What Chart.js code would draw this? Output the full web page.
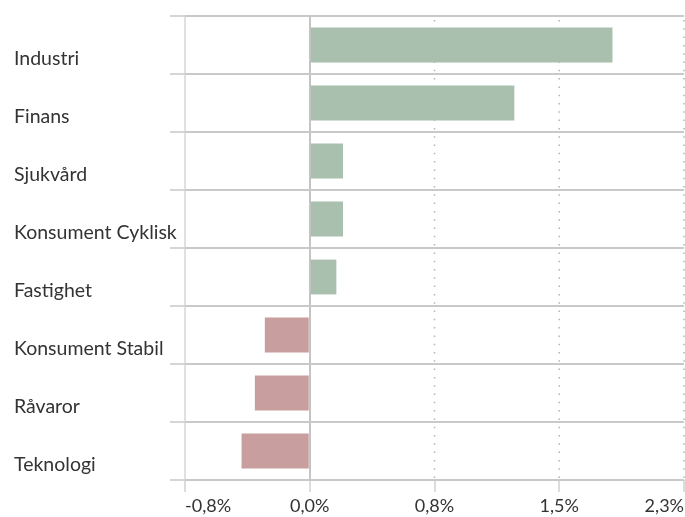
<!DOCTYPE html>
<html lang="sv">
<head>
<meta charset="utf-8">
<title>Sektorer</title>
<script src="https://cdn.jsdelivr.net/npm/chart.js@4/dist/chart.umd.min.js"></script>
<style>
  html, body { margin: 0; padding: 0; background: #fff; }
  #wrap { width: 685px; height: 517px; position: relative; }
</style>
</head>
<body>
<div id="wrap"><canvas id="chartSektorer"></canvas></div>
<script>
// Data
const sektorer = ['Industri', 'Finans', 'Sjukvård', 'Konsument Cyklisk', 'Fastighet', 'Konsument Stabil', 'Råvaror', 'Teknologi'];
const avkastning = [1.82, 1.23, 0.20, 0.20, 0.16, -0.27, -0.33, -0.41];
const xMin = -0.75;
const xMax = 2.25;
const xSteg = 0.75;

const GRON = '#a9c0ae';
const ROD = '#c89e9e';
const FONT = 'Lato, "Open Sans", sans-serif';

const formatProcent = v => v.toFixed(1).replace('.', ',') + '%';

// Prickade linjer + x-etiketter (första/sista etiketten hålls vid sin tick)
const extras = {
  id: 'extras',
  beforeDatasetsDraw(chart) {
    const { ctx, chartArea, scales: { x } } = chart;
    ctx.save();
    ctx.strokeStyle = '#b5b5b5';
    ctx.lineWidth = 1.5;
    ctx.setLineDash([1.5, 6.8]);
    x.ticks.forEach(t => {
      if (t.value <= 0) return;
      const px = x.getPixelForValue(t.value);
      ctx.beginPath();
      ctx.moveTo(px, chartArea.top + 4);
      ctx.lineTo(px, chartArea.bottom);
      ctx.stroke();
    });
    ctx.restore();
  },
  afterDraw(chart) {
    const { ctx, scales: { x } } = chart;
    const n = x.ticks.length;
    ctx.save();
    ctx.font = '18px ' + FONT;
    ctx.fillStyle = '#333';
    ctx.textBaseline = 'middle';
    x.ticks.forEach((t, i) => {
      const txt = formatProcent(t.value);
      const w = ctx.measureText(txt).width;
      const px = x.getPixelForValue(t.value);
      let left = px - w / 2;
      if (i === 0) left = px;
      if (i === n - 1) left = px - w;
      ctx.fillText(txt, left, 506);
    });
    ctx.restore();
  }
};

const ctx = document.getElementById('chartSektorer');
new Chart(ctx, {
  type: 'bar',
  data: {
    labels: sektorer,
    datasets: [{
      data: avkastning,
      backgroundColor: avkastning.map(v => v >= 0 ? GRON : ROD),
      borderWidth: 0,
      categoryPercentage: 1,
      barPercentage: 0.6
    }]
  },
  options: {
    indexAxis: 'y',
    responsive: true,
    maintainAspectRatio: false,
    animation: false,
    layout: { padding: { top: 16, right: 1, bottom: 25, left: 14 } },
    plugins: {
      legend: { display: false },
      tooltip: { enabled: false }
    },
    scales: {
      x: {
        min: xMin,
        max: xMax,
        ticks: { stepSize: xSteg, display: false },
        border: { display: false },
        grid: {
          lineWidth: 2,
          tickLength: 12,
          tickColor: '#dcdcdc',
          color: c => {
            if (!c.tick) return 'rgba(0,0,0,0)';
            if (c.tick.value === 0) return '#c4c4c4';
            if (c.tick.value === xMin) return '#e0e0e0';
            return 'rgba(0,0,0,0)';
          }
        }
      },
      y: {
        border: { display: false },
        grid: {
          offset: true,
          color: '#c9c9c9',
          lineWidth: 2,
          tickLength: 15,
          tickColor: '#d6d6d6'
        },
        ticks: {
          crossAlign: 'far',
          labelOffset: 14,
          color: '#333',
          font: { family: FONT, size: 19.5 }
        },
        afterFit(scale) { scale.width = 171; }
      }
    }
  },
  plugins: [extras]
});
</script>
</body>
</html>
